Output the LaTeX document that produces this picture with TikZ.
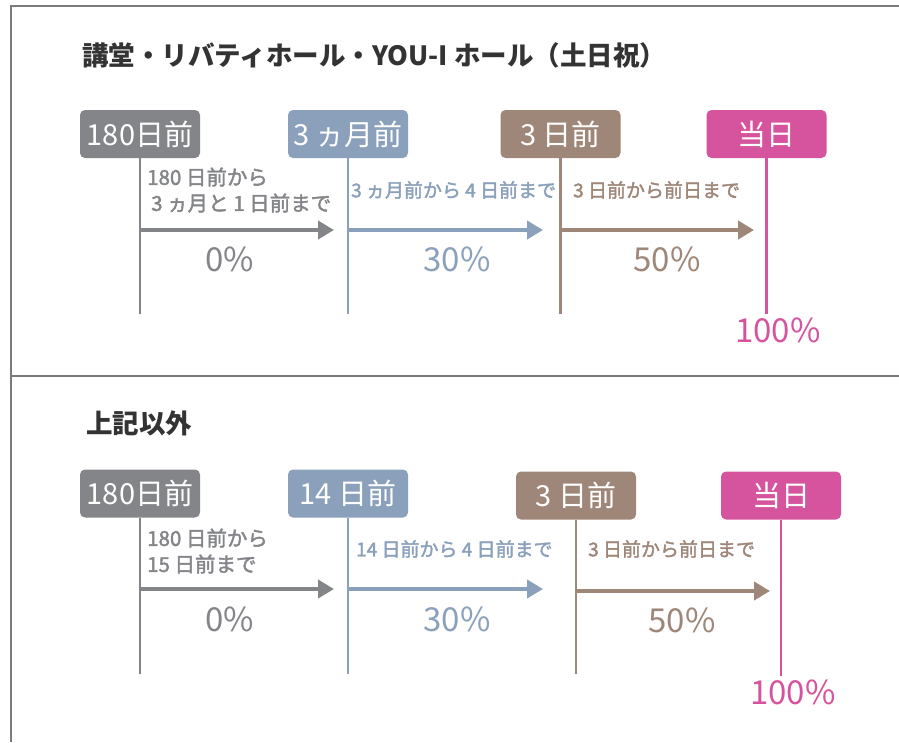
\documentclass[tikz,border=0pt]{standalone}
\usepackage{fontspec}
\setmainfont{Noto Sans CJK JP}
\newfontfamily\jpsemi{Noto Sans CJK JP}[FakeBold=2]
\usetikzlibrary{arrows.meta}

\definecolor{framegray}{HTML}{7B7B7D}
\definecolor{headgray}{HTML}{333333}
\definecolor{stgray}{HTML}{848589}
\definecolor{stblue}{HTML}{8AA0BB}
\definecolor{stbrown}{HTML}{9E8679}
\definecolor{stpink}{HTML}{D6549E}

\begin{document}
\begin{tikzpicture}[x=1pt, y=-1pt,
	stage/.style={fill=#1, text=white, rounded corners=5pt, minimum width=120pt, minimum height=48pt, inner sep=0pt, font=\fontsize{29}{29}\selectfont},
	tl/.style={draw=#1, line width=2.2pt},
	span/.style={draw=#1, line width=4pt, -{Triangle[length=16pt, width=18pt]}},
	note/.style={text=#1, anchor=west, align=left, inner sep=0pt, font=\jpsemi\fontsize{19}{26}\selectfont},
	bignote/.style={note=#1, font=\jpsemi\fontsize{20.5}{26}\selectfont},
	rate/.style={text=#1, inner sep=0pt, font=\fontsize{33}{33}\selectfont},
	heading/.style={text=headgray, anchor=west, inner sep=0pt, font=\bfseries\fontsize{26.5}{26.5}\selectfont}
]

\useasboundingbox (0,0) rectangle (899,742);

% frame
\draw[framegray, line width=2.4pt] (899,6) -- (11,6) -- (11,742);
\draw[framegray, line width=2.4pt] (11,376) -- (899,376);

% upper table
\node[heading] (head1) at (82,55) {講堂・リバティホール・YOU-I ホール（土日祝）};

\node[stage=stgray] (g1) at (140,134) {180日前};
\node[stage=stblue] (b1) at (348,134) {3 ヵ月前};
\node[stage=stbrown] (r1) at (560.5,134) {3 日前};
\node[stage=stpink] (p1) at (766.5,134) {当日};

\coordinate (g1-end) at (140,314);
\coordinate (b1-end) at (348,314);
\coordinate (r1-end) at (560.5,314);
\coordinate (p1-end) at (766.5,314);

\coordinate (g1-tip) at (334,230);
\coordinate (b1-tip) at (543,230);
\coordinate (r1-tip) at (754,230);

% lower table
\node[heading] (head2) at (86,423) {上記以外};

\node[stage=stgray] (g2) at (140,493.5) {180日前};
\node[stage=stblue] (b2) at (348,493.5) {14 日前};
\node[stage=stbrown] (r2) at (576,495.5) {3 日前};
\node[stage=stpink] (p2) at (781,495.5) {当日};

\coordinate (g2-end) at (140,674);
\coordinate (b2-end) at (348,674);
\coordinate (r2-end) at (576,674);
\coordinate (p2-end) at (781,676);

\coordinate (g2-tip) at (334,589);
\coordinate (b2-tip) at (543,589);
\coordinate (r2-tip) at (770,591);

\foreach \n/\c in {g1/stgray, b1/stblue, r1/stbrown, p1/stpink, g2/stgray, b2/stblue, r2/stbrown, p2/stpink}
	\draw[tl=\c] (\n.south) -- (\n-end);

\foreach \n/\c in {g1/stgray, b1/stblue, r1/stbrown, g2/stgray, b2/stblue, r2/stbrown}
	\draw[span=\c] (\n.south |- \n-tip) -- (\n-tip);

% periods
\node[bignote=stgray] (g1-txt) at (147,190) {180 日前から\\\hspace{4pt}3 ヵ月と 1 日前まで};
\node[note=stblue] (b1-txt) at (351,190) {3 ヵ月前から 4 日前まで};
\node[note=stbrown] (r1-txt) at (573,190) {3 日前から前日まで};

\node[bignote=stgray] (g2-txt) at (147,551) {180 日前から\\15 日前まで};
\node[note=stblue] (b2-txt) at (356,549) {14 日前から 4 日前まで};
\node[note=stbrown] (r2-txt) at (588,549) {3 日前から前日まで};

% rates
\node[rate=stgray] (g1-rate) at (230,259) {0\%};
\node[rate=stblue] (b1-rate) at (457,259) {30\%};
\node[rate=stbrown] (r1-rate) at (667,259) {50\%};
\node[rate=stpink] (p1-rate) at (778,330) {100\%};

\node[rate=stgray] (g2-rate) at (230,619) {0\%};
\node[rate=stblue] (b2-rate) at (457,619) {30\%};
\node[rate=stbrown] (r2-rate) at (682,620) {50\%};
\node[rate=stpink] (p2-rate) at (793,692) {100\%};

\end{tikzpicture}
\end{document}
